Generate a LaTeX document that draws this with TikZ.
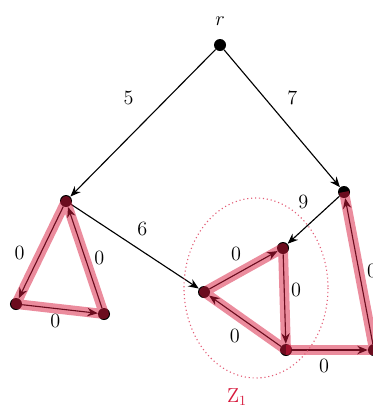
\documentclass[tikz,border=0pt]{standalone}
\usepackage{amsmath}
\usetikzlibrary{positioning,arrows.meta}
\definecolor{zred}{RGB}{215,25,60}

\begin{document}
\begin{tikzpicture}[x=0.025cm, y=-0.025cm, every node/.style={font=\Large},
  vtx/.style={circle, fill=black, inner sep=0pt, minimum size=0.3cm},
  edge/.style={-{Stealth[length=2.6mm, width=2.1mm]}, line width=0.8pt},
  hl/.style={draw=zred, opacity=0.5, line width=7pt, line join=round}]
  \clip (0,0) rectangle (373,408);
  % vertices
  \node[vtx, label={[yshift=6pt]above:$r$}] (r) at (220,45) {};
  \node[vtx] (a) at (66,201) {};
  \node[vtx] (b) at (16,304) {};
  \node[vtx] (c) at (104,314) {};
  \node[vtx] (d) at (344,192) {};
  \node[vtx] (e) at (283,248) {};
  \node[vtx] (f) at (204,292) {};
  \node[vtx] (g) at (286,350) {};
  \node[vtx] (h) at (374,350) {};
  % edges
  \draw[edge] (r) -- node[above left=9pt and 3pt] {5} (a);
  \draw[edge] (r) -- node[above right=6pt and 0pt] {7} (d);
  \draw[edge] (a) -- node[above right=4pt and -2pt] {6} (f);
  \draw[edge] (d) -- node[above left=4pt and 0pt] {9} (e);
  \draw[edge] (a) -- node[left=8pt] {0} (b);
  \draw[edge] (b) -- node[below left=0pt and -4pt] {0} (c);
  \draw[edge] (c) -- node[right=3pt] {0} (a);
  \draw[edge] (f) -- node[above left=3pt and -2pt] {0} (e);
  \draw[edge] (e) -- node[above right=-2pt and 1pt] {0} (g);
  \draw[edge] (g) -- node[below left=2pt and 0pt] {0} (f);
  \draw[edge] (g) -- node[below left=3pt and -3pt] {0} (h);
  \draw[edge] (h) -- node[right=2pt] {0} (d);
  % highlighted cycles
  \draw[hl] (a.center) -- (b.center) -- (c.center) -- cycle;
  \draw[hl] (f.center) -- (e.center) -- (g.center) -- cycle;
  \draw[hl] (g.center) -- (h.center) -- (d.center);
  % region Z_1
  \draw[zred!70, dotted, thick] (256,288) ellipse [x radius=72, y radius=90];
  \node[text=zred] (z1) at (237,397) {Z$_1$};
\end{tikzpicture}
\end{document}
